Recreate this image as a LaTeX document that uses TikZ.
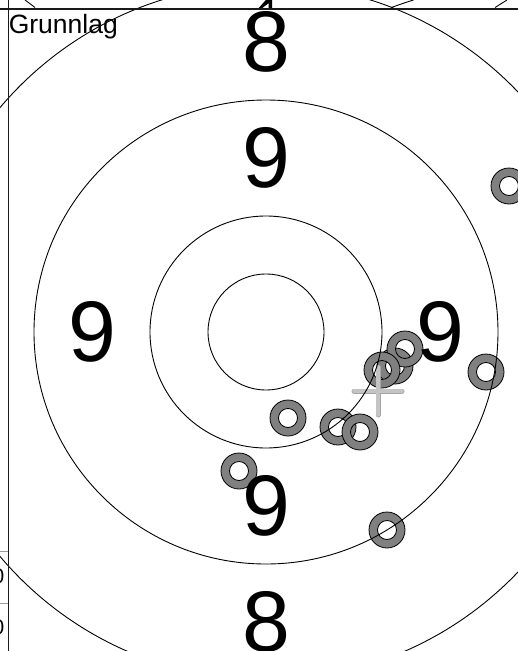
\documentclass[tikz,border=0pt]{standalone}
\usepackage{fontspec}
\setmainfont{Liberation Sans}
\definecolor{ringgray}{HTML}{808080}
\definecolor{crossedge}{HTML}{A6A6A6}
\definecolor{crossfill}{HTML}{C4C4C4}
\definecolor{framecol}{HTML}{1A1A1A}
\definecolor{tablegray}{HTML}{9A9A9A}
\begin{document}
\begin{tikzpicture}[x=1pt,y=-1pt,
  ring/.style={fill=ringgray,draw=black,line width=0.8pt,even odd rule},
  tgt/.style={draw=black,line width=0.9pt},
  big/.style={font=\fontsize{86}{86}\selectfont,inner sep=0pt},
  small/.style={font=\fontsize{21}{21}\selectfont,inner sep=0pt},
  frameline/.style={draw=framecol,line width=1.8pt},
  tableline/.style={draw=tablegray,line width=0.9pt}]
\useasboundingbox (0,0) rectangle (518,651);
\coordinate (c) at (266,332);
% shot holes
\foreach \x/\y in {288/418,239/471,387/530,338/427,360/432,395/366,405/349,382/370,509/186,486/372}
  \path[ring] (\x,\y) circle[radius=18] (\x,\y) circle[radius=9.5];
% aiming cross
\draw[crossedge,line width=5pt,line cap=round] (354,391) -- (402,391) (378,367) -- (378,415);
\draw[crossfill,line width=3.2pt,line cap=round] (354,391) -- (402,391) (378,367) -- (378,415);
% rings of the target
\foreach \r in {58,116,232,348}
  \draw[tgt] (c) circle[radius=\r];
% ring numbers
\node[big] (n8t) at (266,42) {8};
\node[big] (n9t) at (266,158) {9};
\node[big] (n9l) at (92,332) {9};
\node[big] (n9r) at (440,332) {9};
\node[big] (n9b) at (266,506) {9};
\node[big] (n8b) at (266,622) {8};
% title
\node[anchor=base west,inner sep=0pt,font=\fontsize{26.5}{26.5}\selectfont] (title) at (8.6,33.5) {Grunnlag};
% fragments of the neighbouring panel above
\draw[tgt] (25,0) .. controls (28,2.2) and (31.5,4.8) .. (35,7.5);
\draw[tgt] (391.5,7.5) .. controls (398,5) and (406,2.3) .. (413.5,0);
\draw[tgt] (495,7.5) .. controls (499,5) and (503,2.5) .. (507,0);
\fill (258.3,8.5) -- (265.8,0) -- (272,0) -- (272,8.5) -- (268.6,8.5) -- (268.6,3.2) -- (261.6,8.5) -- cycle;
% fragments of the table on the left
\draw[tableline] (0,551) -- (8,551) (0,603) -- (8,603);
\node[small,anchor=east] (t1) at (4.4,576) {0};
\node[small,anchor=east] (t2) at (4.4,627) {0};
% frame
\draw[frameline] (0,9) -- (518,9);
\draw[frameline] (8.5,0) -- (8.5,651);
\end{tikzpicture}
\end{document}
